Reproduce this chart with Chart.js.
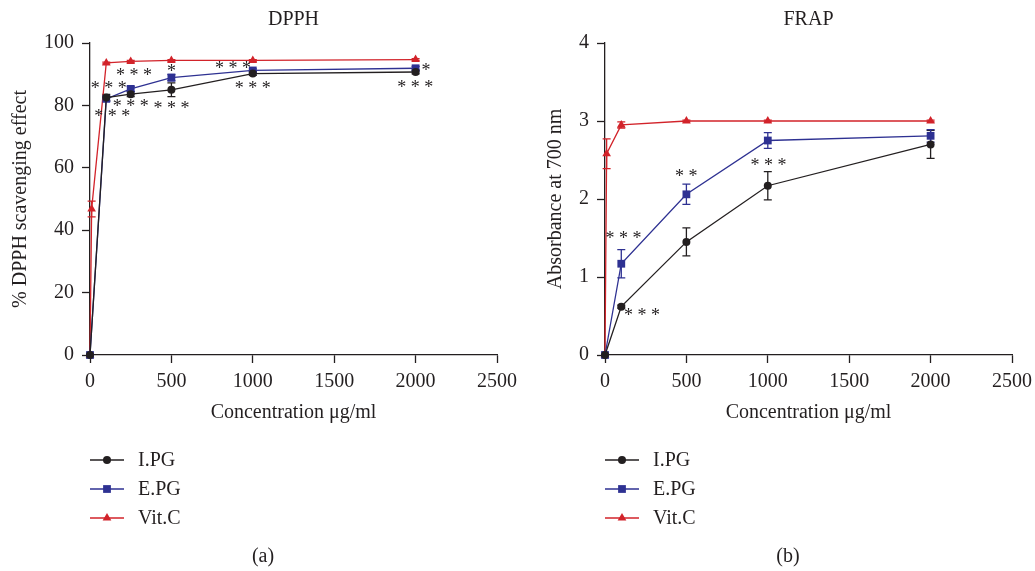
<!DOCTYPE html>
<html>
<head>
<meta charset="utf-8">
<script src="https://cdn.jsdelivr.net/npm/chart.js@4/dist/chart.umd.min.js"></script>
<style>
  body { margin: 0; background: #fff; overflow: hidden; }
  #wrap { position: relative; width: 1035px; height: 571px; overflow: hidden; }
  .panel { position: absolute; top: 0; height: 571px; }
</style>
</head>
<body>
<div id="wrap">
  <div class="panel" style="left:0;width:524px"><canvas id="dpphChart"></canvas></div>
  <div class="panel" style="left:517px;width:522px"><canvas id="frapChart"></canvas></div>
</div>
<script>
// ---- data ----
const seriesNames = ['I.PG', 'E.PG', 'Vit.C'];

// DPPH (% scavenging)
const dpphConc = [0, 100, 250, 500, 1000, 2000];
const dpphVitCConc = [0, 10, 100, 250, 500, 1000, 2000];
const dpphIPG = [0, 82.5, 83.6, 85.0, 90.2, 90.7];
const dpphEPG = [0, 82.1, 85.3, 88.9, 91.2, 91.9];
const dpphVitC = [0, 46.8, 93.6, 94.1, 94.4, 94.4, 94.7];
const dpphIPGErr = [0, 1.0, 0.8, 2.2, 0.6, 0.6];
const dpphEPGErr = [0, 0.8, 0.8, 1.0, 0.5, 0.6];
const dpphVitCErr = [0, 2.5, 0.3, 0.3, 0.3, 0.3, 0.3];
const dpphStarText = ['* * *', '* * *', '* * *', '* * *', '*', '* * *', '* * *', '* * *', '*', '* * *'];
const dpphStarX = [115, 137, 270, 250, 500, 500, 878, 1000, 2064, 1998];
const dpphStarY = [86.1, 77.1, 90.2, 80.3, 91.5, 79.7, 92.7, 86.1, 92.0, 86.4];

// FRAP (absorbance at 700 nm)
const frapConc = [0, 100, 500, 1000, 2000];
const frapVitCConc = [0, 10, 100, 500, 1000, 2000];
const frapIPG = [0, 0.62, 1.45, 2.17, 2.70];
const frapEPG = [0, 1.17, 2.06, 2.75, 2.81];
const frapVitC = [0, 2.58, 2.95, 3.0, 3.0, 3.0];
const frapIPGErr = [0, 0.02, 0.18, 0.18, 0.18];
const frapEPGErr = [0, 0.18, 0.13, 0.10, 0.08];
const frapVitCErr = [0, 0.19, 0.04, 0.01, 0.01, 0.01];
const frapStarText = ['* * *', '* * *', '* *', '* * *'];
const frapStarX = [114, 227, 499, 1005];
const frapStarY = [1.52, 0.54, 2.32, 2.46];

// ---- styles ----
const ink = '#231f20';
const colors = ['#231f20', '#2e3192', '#d2232a'];
const shapes = ['circle', 'rect', 'triangle'];
const radii = [4, 5.5, 5];
const serif = 'Liberation Serif, Times New Roman, serif';

function pts(xs, ys) {
    return xs.map((x, i) => ({x: x, y: ys[i]}));
}

function makeSet(i, xs, ys, errs) {
    return {
        label: seriesNames[i],
        data: pts(xs, ys),
        errors: errs,
        borderColor: colors[i],
        backgroundColor: colors[i],
        borderWidth: 1.3,
        pointStyle: shapes[i],
        pointRadius: radii[i],
        pointBorderWidth: 0,
        tension: 0,
        clip: false
    };
}

// error bars, drawn under the markers
const errorBars = {
    id: 'errorBars',
    beforeDatasetsDraw(chart) {
        const ctx = chart.ctx, xs = chart.scales.x, ys = chart.scales.y;
        ctx.save();
        chart.data.datasets.forEach(ds => {
            ctx.strokeStyle = ds.borderColor;
            ctx.lineWidth = 1.3;
            ds.data.forEach((p, i) => {
                const e = ds.errors[i];
                if (!e) return;
                const px = xs.getPixelForValue(p.x);
                const top = ys.getPixelForValue(p.y + e);
                const bot = ys.getPixelForValue(p.y - e);
                ctx.beginPath();
                ctx.moveTo(px, top); ctx.lineTo(px, bot);
                ctx.moveTo(px - 4, top); ctx.lineTo(px + 4, top);
                ctx.moveTo(px - 4, bot); ctx.lineTo(px + 4, bot);
                ctx.stroke();
            });
        });
        ctx.restore();
    }
};

// significance stars at data positions, plus the panel title over the plot area
const stars = {
    id: 'stars',
    afterDatasetsDraw(chart, args, opts) {
        const ctx = chart.ctx, xs = chart.scales.x, ys = chart.scales.y;
        ctx.save();
        ctx.font = '18px ' + serif;
        ctx.fillStyle = ink;
        ctx.textAlign = 'center';
        ctx.textBaseline = 'middle';
        opts.text.forEach((t, i) => {
            ctx.fillText(t, xs.getPixelForValue(opts.x[i]), ys.getPixelForValue(opts.y[i]) + 3);
        });
        ctx.font = '20px ' + serif;
        const area = chart.chartArea;
        ctx.fillText(opts.title, (area.left + area.right) / 2, 20);
        ctx.restore();
    }
};

function drawMarker(ctx, shape, x, y, r) {
    ctx.beginPath();
    if (shape === 'circle') {
        ctx.arc(x, y, r, 0, Math.PI * 2);
    } else if (shape === 'rect') {
        const s = r * Math.SQRT1_2;
        ctx.rect(x - s, y - s, s * 2, s * 2);
    } else {
        const h = r * 1.5, w = r * 0.87;
        ctx.moveTo(x, y - h * 0.66);
        ctx.lineTo(x + w, y + h * 0.34);
        ctx.lineTo(x - w, y + h * 0.34);
        ctx.closePath();
    }
    ctx.fill();
}

// legend list and panel caption below the plot
const panelLegend = {
    id: 'panelLegend',
    afterDraw(chart, args, opts) {
        const ctx = chart.ctx;
        ctx.save();
        ctx.font = '20px ' + serif;
        ctx.textBaseline = 'middle';
        chart.data.datasets.forEach((ds, i) => {
            const y = opts.top + i * 29;
            ctx.strokeStyle = ds.borderColor;
            ctx.fillStyle = ds.borderColor;
            ctx.lineWidth = 1.3;
            ctx.beginPath();
            ctx.moveTo(opts.left, y);
            ctx.lineTo(opts.left + 34, y);
            ctx.stroke();
            drawMarker(ctx, ds.pointStyle, opts.left + 17, y, ds.pointRadius);
            ctx.fillStyle = ink;
            ctx.textAlign = 'left';
            ctx.fillText(ds.label, opts.left + 48, y + 1);
        });
        ctx.textAlign = 'center';
        ctx.fillText(opts.caption, opts.captionX, 557);
        ctx.restore();
    }
};

function makeOptions(cfg) {
    const tickFont = {family: serif, size: 20};
    return {
        responsive: true,
        maintainAspectRatio: false,
        animation: false,
        layout: {padding: {left: cfg.padLeft, right: 0, top: 43, bottom: 142}},
        plugins: {
            legend: {display: false},
            tooltip: {enabled: false},
            title: {display: false},
            stars: {title: cfg.title, text: cfg.starText, x: cfg.starX, y: cfg.starY},
            panelLegend: {left: cfg.legendLeft, top: 460, caption: cfg.caption, captionX: cfg.captionX}
        },
        scales: {
            x: {
                type: 'linear',
                min: 0,
                max: 2500,
                ticks: {
                    stepSize: 500, color: ink, font: tickFont, padding: 7, maxRotation: 0,
                    callback: v => String(v)
                },
                grid: {drawOnChartArea: false, tickLength: 8, tickColor: ink, tickWidth: 1.3},
                border: {color: ink, width: 1.3},
                title: {display: true, text: 'Concentration μg/ml', color: ink, font: tickFont, padding: {top: 0, bottom: 4}}
            },
            y: {
                min: 0,
                max: cfg.yMax,
                ticks: {stepSize: cfg.yStep, color: ink, font: tickFont, padding: 8},
                grid: {drawOnChartArea: false, tickLength: 8, tickColor: ink, tickWidth: 1.3},
                border: {color: ink, width: 1.3},
                title: {display: true, text: cfg.yTitle, color: ink, font: tickFont, padding: {top: 2, bottom: cfg.yTitleGap}}
            }
        }
    };
}

let ctx = document.getElementById('dpphChart').getContext('2d');
let dpphChart = new Chart(ctx, {
    type: 'line',
    data: {
        datasets: [
            makeSet(0, dpphConc, dpphIPG, dpphIPGErr),
            makeSet(1, dpphConc, dpphEPG, dpphEPGErr),
            makeSet(2, dpphVitCConc, dpphVitC, dpphVitCErr)
        ]
    },
    options: makeOptions({
        title: 'DPPH', yTitle: '% DPPH scavenging effect', yMax: 100, yStep: 20,
        padLeft: 7, yTitleGap: 3,
        starText: dpphStarText, starX: dpphStarX, starY: dpphStarY,
        legendLeft: 90, caption: '(a)', captionX: 263
    }),
    plugins: [errorBars, stars, panelLegend]
});

let ctx2 = document.getElementById('frapChart').getContext('2d');
let frapChart = new Chart(ctx2, {
    type: 'line',
    data: {
        datasets: [
            makeSet(0, frapConc, frapIPG, frapIPGErr),
            makeSet(1, frapConc, frapEPG, frapEPGErr),
            makeSet(2, frapVitCConc, frapVitC, frapVitCErr)
        ]
    },
    options: makeOptions({
        title: 'FRAP', yTitle: 'Absorbance at 700 nm', yMax: 4, yStep: 1,
        padLeft: 25, yTitleGap: 3,
        starText: frapStarText, starX: frapStarX, starY: frapStarY,
        legendLeft: 88, caption: '(b)', captionX: 271
    }),
    plugins: [errorBars, stars, panelLegend]
});
</script>
</body>
</html>
